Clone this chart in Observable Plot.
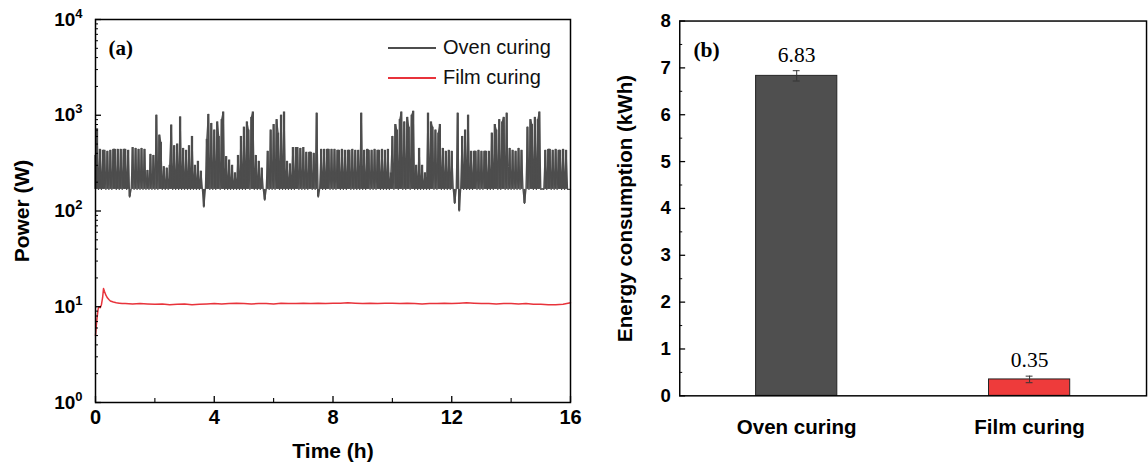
<!DOCTYPE html>
<html><head><meta charset="utf-8">
<script src="https://cdn.jsdelivr.net/npm/d3@7"></script>
<script src="https://cdn.jsdelivr.net/npm/@observablehq/plot@0.6"></script>
<style>
html,body{margin:0;padding:0;background:#fff;overflow:hidden;width:1148px;height:470px;}
#a{position:absolute;left:0;top:0;}
#b{position:absolute;left:600px;top:0;}
.lg{position:absolute;font-family:"Liberation Sans",Arial,sans-serif;font-size:20px;color:#111;line-height:24px;white-space:nowrap;}
.lgline{position:absolute;height:2px;width:48px;}
</style></head><body>
<div id="a"></div><div id="b"></div>
<div class="lgline" style="left:388px;top:47px;background:#4d4d4d"></div>
<div class="lg" style="left:443px;top:35px">Oven curing</div>
<div class="lgline" style="left:388px;top:77px;background:#e8333b"></div>
<div class="lg" style="left:443px;top:65px">Film curing</div>
<script>
// ---- Panel (a): power vs time ----
const ovenStep = 0.05;      // h between samples
const ovenBaseline = 168;   // W, idle level of the oven
const ovenPower = [
 380,720,168,440,168,430,430,168,420,168,430,168,440,440,168,440,168,440,168,440,
 440,168,430,140,168,460,168,450,168,440,168,450,168,440,168,265,168,390,168,380,
 168,1000,168,620,520,168,290,168,280,168,300,790,168,480,168,500,168,960,168,450,
 168,430,168,480,168,600,168,300,168,330,168,260,168,110,168,560,1020,168,820,168,
 700,168,850,600,168,900,1080,168,370,168,340,168,300,168,250,168,380,168,600,168,
 750,168,850,700,168,950,1080,168,380,168,330,168,280,168,130,168,420,168,700,168,
 800,168,900,650,168,1000,168,1080,168,330,168,310,168,460,168,460,460,168,450,168,
 460,168,410,168,410,410,168,400,168,1050,140,168,440,168,440,168,440,440,168,440,
 168,440,168,430,430,168,440,168,430,168,430,430,168,440,168,430,168,430,168,1050,
 168,430,168,440,430,168,430,168,440,168,430,430,168,440,168,430,168,440,168,250,
 600,168,800,700,168,900,1080,168,850,168,950,750,168,1000,1100,168,300,168,450,168,
 300,168,250,168,1050,168,850,750,168,700,168,650,800,168,450,168,420,168,430,168,
 420,168,120,168,1050,100,168,600,168,700,168,1000,168,420,168,420,420,168,430,168,
 420,168,420,420,168,420,168,650,168,800,700,168,900,168,850,950,168,1050,168,450,
 168,430,168,420,168,450,168,430,168,120,168,750,168,900,800,168,950,168,900,1080,
 168,170,168,430,168,440,440,168,430,168,440,168,430,430,168,440,168,430,168,168,
 168
];
const filmTime = [0,0.03,0.06,0.09,0.12,0.16,0.2,0.24,0.27,0.3,0.35,0.4,0.45,0.5,0.6,0.7,0.8,0.9,1.0,
 1.25,1.5,1.75,2,2.25,2.5,2.75,3,3.25,3.5,3.75,4,4.25,4.5,4.75,5,5.25,5.5,5.75,6,6.25,6.5,6.75,7,
 7.25,7.5,7.75,8,8.25,8.5,8.75,9,9.25,9.5,9.75,10,10.25,10.5,10.75,11,11.25,11.5,11.75,12,
 12.25,12.5,12.75,13,13.25,13.5,13.75,14,14.25,14.5,14.75,15,15.25,15.5,15.75,16];
const filmPower = [5.0,6.5,8.0,9.5,10.0,9.8,10.5,12.5,15.5,14.5,13.2,12.4,11.9,11.5,11.2,11.0,10.9,10.8,10.8,
 10.7,10.8,10.7,10.6,10.7,10.5,10.6,10.7,10.5,10.6,10.7,10.8,10.7,10.8,10.9,10.8,
 10.7,10.8,10.8,10.7,10.9,10.8,10.8,10.9,10.8,10.9,10.8,10.9,10.9,11.0,10.9,10.8,
 10.9,10.8,10.9,10.9,10.8,10.9,10.8,10.7,10.8,10.8,10.9,10.8,10.9,11.0,10.9,10.8,
 10.8,10.7,10.8,10.8,10.7,10.8,10.6,10.6,10.5,10.5,10.6,11.0];
const yMajor = [1,10,100,1000,10000];
const yMinor = [2,3,4,5,6,7,8,9,20,30,40,50,60,70,80,90,200,300,400,500,600,700,800,900,2000,3000,4000,5000,6000,7000,8000,9000];
const xMajor = [0,4,8,12,16];
const xMinor = [2,6,10,14];

// ---- Panel (b): energy consumption ----
const categories = ["Oven curing","Film curing"];
const energy = [6.83, 0.35];
const energyErr = [0.11, 0.07];
const barColors = ["#4f4f4f","#ee3b3b"];
const bMajor = [0,1,2,3,4,5,6,7,8];
const bMinor = [0.5,1.5,2.5,3.5,4.5,5.5,6.5,7.5];

const oven = ovenPower.map((p,i)=>({t:i*ovenStep, p}));
const film = filmTime.map((t,i)=>({t, p:filmPower[i]}));
const sans = "Liberation Sans, Arial, Helvetica, sans-serif";
const serif = "Liberation Serif, Times New Roman, serif";

const pa = Plot.plot({
  width: 600, height: 470,
  marginLeft: 95, marginRight: 30, marginTop: 19, marginBottom: 68,
  style: {fontFamily: sans, fontSize: "19px", fontWeight: "bold", color: "#000", background: "transparent", overflow: "visible"},
  x: {domain: [0,16]},
  y: {type: "log", domain: [1,1e4]},
  marks: [
    Plot.ruleX(oven, {x:"t", y1: ovenBaseline, y2:"p", stroke:"#4d4d4d", strokeWidth:2.3}),
    Plot.line(oven, {x:"t", y:"p", stroke:"#4d4d4d", strokeWidth:1.3}),
    Plot.line(film, {x:"t", y:"p", stroke:"#e8333b", strokeWidth:1.5}),
    Plot.frame({stroke:"#000", strokeWidth:1.5}),
    Plot.axisY(yMajor, {tickSize:-6, tickPadding:19, strokeWidth:1.3, label:null, tickFormat: d => "10^" + Math.round(Math.log10(d))}),
    Plot.axisY(yMinor, {tickSize:-3, strokeWidth:1, label:null, tickFormat: () => ""}),
    Plot.axisX(xMajor, {tickSize:-6, tickPadding:13, strokeWidth:1.3, label:null, tickFormat: d => String(d), fontSize:20}),
    Plot.axisX(xMinor, {tickSize:-4, strokeWidth:1.1, label:null, tickFormat: () => ""}),
    Plot.text(["Power (W)"], {frameAnchor:"left", textAnchor:"middle", rotate:-90, dx:-73, fontSize:21, fontWeight:"bold"}),
    Plot.text(["Time (h)"], {frameAnchor:"bottom", dy:55, fontSize:21, fontWeight:"bold"}),
    Plot.text(["(a)"], {frameAnchor:"top-left", dx:13, dy:21, textAnchor:"start", fontFamily:serif, fontSize:21, fontWeight:"bold"})
  ]
});
// superscript exponents on log ticks
d3.select(pa).selectAll('g[aria-label="y-axis tick label"] text').each(function(){
  const s = this.textContent;
  if (!s.includes("^")) return;
  const [base, exp] = s.split("^");
  const t = d3.select(this); t.text("");
  t.append("tspan").text(base);
  t.append("tspan").attr("dy","-8").attr("font-size","13px").text(exp);
});
document.getElementById("a").appendChild(pa);

const bars = categories.map((c,i)=>({c, v:energy[i], e:energyErr[i]}));
const pb = Plot.plot({
  width: 560, height: 470,
  marginLeft: 81, marginRight: 2, marginTop: 21, marginBottom: 66,
  style: {fontFamily: sans, fontSize: "19px", fontWeight: "bold", color: "#000", background: "transparent"},
  x: {domain: categories, paddingInner: 0.65, paddingOuter: 0.325},
  y: {domain: [0,8]},
  color: {domain: categories, range: barColors},
  marks: [
    Plot.barY(bars, {x:"c", y:"v", fill:"c", stroke:"#222", strokeWidth:1}),
    Plot.ruleX(bars, {x:"c", y1: d=>d.v-d.e, y2: d=>d.v+d.e, stroke:"#333", strokeWidth:1}),
    Plot.tickY(bars, {x:"c", y: d=>d.v+d.e, stroke:"#333", insetLeft:38, insetRight:38}),
    Plot.tickY(bars, {x:"c", y: d=>d.v-d.e, stroke:"#333", insetLeft:38, insetRight:38}),
    Plot.text(bars, {x:"c", y: d=>d.v+d.e, text: d=>d.v.toFixed(2), dy:-9, lineAnchor:"bottom", fontFamily:serif, fontSize:22, fontWeight:"normal"}),
    Plot.frame({stroke:"#000", strokeWidth:1.5}),
    Plot.axisY(bMajor, {tickSize:-6, tickPadding:15, strokeWidth:1.3, label:null}),
    Plot.axisY(bMinor, {tickSize:-3, strokeWidth:1, label:null, tickFormat: () => ""}),
    Plot.axisX({tickSize:0, tickPadding:24, label:null, fontSize:21}),
    Plot.text(["Energy consumption (kWh)"], {frameAnchor:"left", textAnchor:"middle", rotate:-90, dx:-56, fontSize:21, fontWeight:"bold"}),
    Plot.text(["(b)"], {frameAnchor:"top-left", dx:14, dy:21, textAnchor:"start", fontFamily:serif, fontSize:22, fontWeight:"bold"})
  ]
});
document.getElementById("b").appendChild(pb);
</script>
</body></html>
